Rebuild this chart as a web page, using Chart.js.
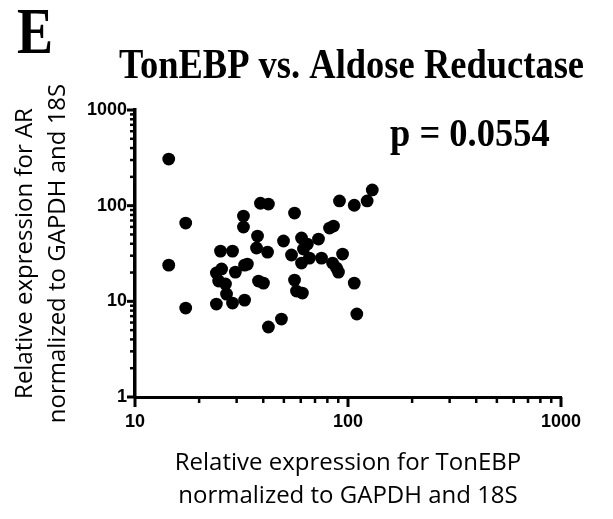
<!DOCTYPE html>
<html>
<head>
<meta charset="utf-8">
<script src="https://cdn.jsdelivr.net/npm/chart.js@4"></script>
<style>
  html, body { margin: 0; padding: 0; background: #fff; }
  #wrap { width: 613px; height: 519px; }
</style>
</head>
<body>
<div id="wrap"><canvas id="chart" width="613" height="519"></canvas></div>
<script>
// one point per sample: TonEBP (x) vs aldose reductase (y), both relative to GAPDH and 18S
const tonEBP = [14.4, 17.3, 14.4, 17.3, 32.3, 32.3, 25.2, 28.7, 24.1, 25.5,
                29.6, 32.7, 33.7, 24.7, 26.6, 26.9, 24.1, 28.7, 32.7, 38.8,
                42.3, 56.1, 91.2, 107, 123, 130, 81.9, 85.5, 37.6, 37.2,
                41.9, 49.8, 60.5, 64.5, 72.7, 61.8, 54.3, 65.9, 60.5, 75.1,
                94.3, 84.6, 88.3, 90.2, 38.0, 40.1, 56.1, 57.3, 61.1, 107,
                48.7, 42.3, 110];
const aldoseReductase = [307, 65.8, 23.9, 8.51, 77.9, 59.7, 33.5, 33.5, 19.8, 21.8,
                20.2, 23.9, 24.5, 16.3, 15.2, 11.9, 9.37, 9.60, 10.3, 106,
                104, 83.7, 112, 101, 112, 146, 58.3, 61.2, 48.1, 36.1,
                32.7, 42.7, 45.9, 39.7, 44.8, 35.2, 30.5, 28.3, 25.1, 28.3,
                31.2, 25.1, 22.3, 20.2, 16.3, 15.5, 16.7, 12.8, 12.2, 15.5,
                6.53, 5.39, 7.37];

// labelled ticks on both axes
const decades = [1, 10, 100, 1000];
const xRange = [10, 1000];
const yRange = [1, 1000];
const chartTitle = 'TonEBP vs. Aldose Reductase';
const pValue = 'p = 0.0554';

// every decade plus the 2..9 steps in between
function logTicks(lo, hi) {
    const out = [];
    decades.forEach(d => {
        for (let m = 1; m <= 9; m++) {
            const v = d * m;
            if (v >= lo && v <= hi) out.push({ value: v });
        }
    });
    return out;
}

// Prism style ticks: long at decades, short in between
const tickMarks = {
    id: 'tickMarks',
    afterDraw(c) {
        const ctx = c.ctx;
        const { x, y } = c.scales;
        ctx.save();
        ctx.strokeStyle = '#000';
        x.ticks.forEach(t => {
            const major = decades.includes(t.value);
            const px = x.getPixelForValue(t.value);
            ctx.lineWidth = major ? 3 : 2.5;
            ctx.beginPath();
            ctx.moveTo(px, x.top);
            ctx.lineTo(px, x.top + (major ? 10 : 6));
            ctx.stroke();
        });
        y.ticks.forEach(t => {
            const major = decades.includes(t.value);
            const py = y.getPixelForValue(t.value);
            ctx.lineWidth = major ? 3 : 2.5;
            ctx.beginPath();
            ctx.moveTo(y.right, py);
            ctx.lineTo(y.right - (major ? 8 : 5), py);
            ctx.stroke();
        });
        ctx.restore();
    }
};

// serif texts of the panel: letter, title, p value
function stretchedText(ctx, text, size, x, y, sy, align) {
    ctx.save();
    ctx.fillStyle = '#000';
    ctx.textAlign = align || 'left';
    ctx.textBaseline = 'alphabetic';
    ctx.font = 'bold ' + size + 'px "Liberation Serif"';
    ctx.translate(x, y);
    ctx.scale(1, sy);
    ctx.fillText(text, 0, 0);
    ctx.restore();
}

const panelText = {
    id: 'panelText',
    afterDraw(c) {
        const ctx = c.ctx;
        stretchedText(ctx, 'E', 54, 17, 53, 1.22);
        stretchedText(ctx, chartTitle, 36.5, 351.5, 78, 1.15, 'center');
        stretchedText(ctx, pValue, 36.5, 390, 146, 1.08);
    }
};

const tickFont = { family: 'Liberation Sans', size: 18, weight: 'bold' };
const titleFont = { family: 'Open Sans', size: 24, lineHeight: 1.375 };

new Chart(document.getElementById('chart'), {
    type: 'scatter',
    data: {
        datasets: [{
            data: tonEBP.map((v, i) => ({ x: v, y: aldoseReductase[i] })),
            backgroundColor: '#000',
            borderWidth: 0,
            pointRadius: 6.4,
            pointHoverRadius: 6.4
        }]
    },
    options: {
        responsive: false,
        animation: false,
        layout: { padding: { top: 110, right: 52, bottom: 0, left: 0 } },
        plugins: {
            legend: { display: false },
            tooltip: { enabled: false },
            title: { display: false }
        },
        scales: {
            x: {
                type: 'logarithmic',
                min: xRange[0],
                max: xRange[1],
                afterFit: s => { s.height = 122; },
                afterBuildTicks: s => { s.ticks = logTicks(xRange[0], xRange[1]); },
                ticks: {
                    autoSkip: false,
                    maxRotation: 0,
                    padding: 4,
                    color: '#000',
                    font: tickFont,
                    callback: v => decades.includes(v) ? String(v) : ''
                },
                grid: { display: true, drawOnChartArea: false, tickLength: 10, tickColor: 'rgba(0,0,0,0)' },
                border: { color: '#000', width: 3 },
                title: {
                    display: true,
                    text: ['Relative expression for TonEBP', 'normalized to GAPDH and 18S'],
                    color: '#000',
                    font: titleFont,
                    padding: { top: 0, bottom: 6.5 }
                }
            },
            y: {
                type: 'logarithmic',
                min: yRange[0],
                max: yRange[1],
                afterFit: s => { s.width = 135; },
                afterBuildTicks: s => { s.ticks = logTicks(yRange[0], yRange[1]); },
                ticks: {
                    autoSkip: false,
                    padding: 3,
                    color: '#000',
                    font: tickFont,
                    callback: v => decades.includes(v) ? String(v) : ''
                },
                grid: { display: true, drawOnChartArea: false, tickLength: 5, tickColor: 'rgba(0,0,0,0)' },
                border: { color: '#000', width: 3.5 },
                title: {
                    display: true,
                    text: ['Relative expression for AR', 'normalized to GAPDH and 18S'],
                    color: '#000',
                    font: titleFont,
                    padding: { top: 8.5, bottom: 0 }
                }
            }
        }
    },
    plugins: [tickMarks, panelText]
});
</script>
</body>
</html>
